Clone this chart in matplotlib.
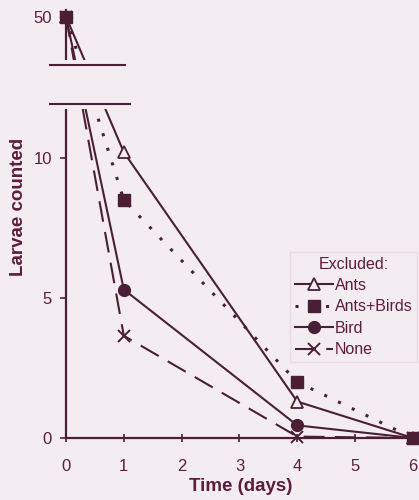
import numpy as np
import matplotlib
matplotlib.use("Agg")
from matplotlib import pyplot as plt
from matplotlib.patches import Rectangle
from matplotlib.lines import Line2D

# Данные
days = [0, 1, 4, 6]
ants = [50, 10.2, 1.3, 0]
ants_birds = [50, 8.5, 2.0, 0]
bird = [50, 5.3, 0.45, 0]
none = [50, 3.65, 0.05, 0]

labels = ["Ants", "Ants+Birds", "Bird", "None"]
yticks = [0, 5, 10, 50]

bg = "#f3edf1"
ink = "#4a1f36"
txt = "#5c1d3c"

# Разрыв оси: выше 12 шкала сжата
brk = 12.0
k = 0.08


def fwd(y):
    y = np.asarray(y, dtype=float)
    return np.where(y <= brk, y, brk + (y - brk) * k)


def inv(t):
    t = np.asarray(t, dtype=float)
    return np.where(t <= brk, t, brk + (t - brk) / k)


plt.rcParams['font.family'] = ['Liberation Sans', 'DejaVu Sans']

fig = plt.figure(figsize=(4.19, 5.0), dpi=100, facecolor=bg)
ax = fig.add_axes([0.1575, 0.124, 0.835, 0.856])
ax.set_facecolor(bg)
ax.set_yscale('function', functions=(fwd, inv))

lw = 1.5
ax.plot(days, ants, color=ink, lw=lw, marker='^', ms=8, mfc=bg, mec=ink, mew=1.3,
        label=labels[0], clip_on=False, zorder=3)
ax.plot(days, ants_birds, color=ink, lw=2.2, ls=(0, (1, 4)), marker='s', ms=8.5,
        mfc=ink, mec=ink, label=labels[1], clip_on=False, zorder=3)
ax.plot(days, bird, color=ink, lw=lw, marker='o', ms=8.5, mfc=ink, mec=ink,
        label=labels[2], clip_on=False, zorder=3)
ax.plot(days, none, color=ink, lw=lw, ls=(0, (10, 5)), marker='x', ms=8, mew=1.4,
        mec=ink, label=labels[3], clip_on=False, zorder=3)

ax.set_xlim(0, 6.05)
ax.set_ylim(0, 53)
ax.set_xticks(range(7))
ax.set_yticks(yticks)
ax.set_yticklabels([str(v) for v in yticks])
ax.minorticks_off()

for s in ['top', 'right']:
    ax.spines[s].set_visible(False)
for s in ['left', 'bottom']:
    ax.spines[s].set_color(ink)
    ax.spines[s].set_linewidth(1.6)

ax.tick_params(axis='both', colors=ink, labelcolor=txt, labelsize=12, width=1.2, length=4)
ax.tick_params(axis='x', direction='inout', length=6, pad=12)
ax.tick_params(axis='y', direction='out', pad=6)

ax.set_xlabel("Time (days)", fontsize=13.5, fontweight='bold', color=txt, labelpad=3)
ax.set_ylabel("Larvae counted", fontsize=13.5, fontweight='bold', color=txt)
ax.yaxis.set_label_coords(-0.112, 0.54)

# белая полоса разрыва и горизонтальные черточки
gap = Rectangle((-0.08, 0.768), 0.5, 0.115, transform=ax.transAxes, facecolor=bg,
                edgecolor='none', zorder=4, clip_on=False)
ax.add_patch(gap)
ax.add_line(Line2D([-0.046, 0.17], [0.8715, 0.8715], transform=ax.transAxes, color=ink,
                   lw=1.5, zorder=5, clip_on=False))
ax.add_line(Line2D([-0.046, 0.183], [0.7804, 0.7804], transform=ax.transAxes, color=ink,
                   lw=1.5, zorder=5, clip_on=False))

leg = ax.legend(title="Excluded:", loc='upper left', bbox_to_anchor=(0.64, 0.435),
                fontsize=11.5, title_fontsize=11.5, frameon=True, handlelength=2.4,
                handletextpad=0.1, labelspacing=0.4, borderpad=0.3, borderaxespad=0)
leg.get_frame().set_facecolor(bg)
leg.get_frame().set_edgecolor('#e2d9df')
leg.get_frame().set_boxstyle('square', pad=0)
for t in leg.get_texts():
    t.set_color(txt)
leg.get_title().set_color(txt)

fig.savefig("out.png", dpi=100, facecolor=bg)
